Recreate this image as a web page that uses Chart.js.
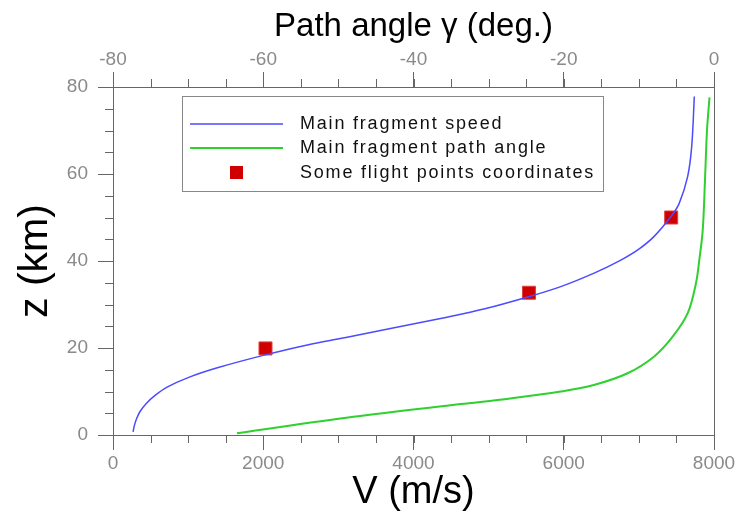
<!DOCTYPE html>
<html>
<head>
<meta charset="utf-8">
<script src="https://cdn.jsdelivr.net/npm/chart.js@4"></script>
<style>
  html, body { margin: 0; padding: 0; background: #fff; }
  #wrap { width: 740px; height: 512px; position: relative; }
</style>
</head>
<body>
<div id="wrap"><canvas id="c"></canvas></div>
<script>
// Trajectory data
const speedV   = [267, 285, 315, 360, 440, 560, 720, 1000, 1400, 2000, 2587, 3100, 3693, 4360, 4950, 5537, 5960, 6404, 6760, 6990, 7200, 7440, 7538, 7649, 7703, 7738];
const speedZ   = [0.7, 2.2, 3.8, 5.4, 7.2, 9.1, 11.0, 13.2, 15.5, 18.3, 20.7, 22.4, 24.5, 26.8, 29.0, 31.8, 34.1, 37.2, 40.2, 42.6, 45.6, 50.5, 53.3, 59.4, 66.3, 77.8];
const angleG   = [-63.5, -48, -33.7, -27.1, -20.4, -16, -11.5, -8.0, -5.5, -3.5, -2.4, -1.96, -1.5, -1.2, -0.93, -0.6];
const angleZ   = [0.4, 4.2, 7.1, 8.4, 10.0, 11.5, 14.2, 18.0, 22.6, 28.0, 34.9, 40.2, 47.1, 58.6, 70.1, 77.6];
const flightV  = [2030, 5537, 7430];
const flightZ  = [19.9, 32.7, 50.0];

const AXIS = '#666666';
const TICKTXT = '#8a8a8a';
const FONT = "'Liberation Sans', Arial, sans-serif";

const pairs = (xs, ys) => xs.map((x, i) => ({ x: x, y: ys[i] }));

// minor ticks + right frame line
const frameTicks = {
    id: 'frameTicks',
    afterDraw(chart) {
        const { ctx, chartArea: a, scales } = chart;
        const len = 8;
        ctx.save();
        ctx.strokeStyle = AXIS;
        ctx.lineWidth = 1;
        ctx.beginPath();
        ctx.moveTo(a.right + 0.5, a.top);
        ctx.lineTo(a.right + 0.5, a.bottom);
        const minor = [
            [scales.x, 500, 'bottom'],
            [scales.x2, 5, 'top'],
            [scales.y, 5, 'left']
        ];
        minor.forEach(([s, step, pos]) => {
            for (let v = s.min; v <= s.max + 1e-9; v += step) {
                const p = Math.round(s.getPixelForValue(v)) + 0.5;
                if (pos === 'bottom') { ctx.moveTo(p, a.bottom); ctx.lineTo(p, a.bottom + len); }
                if (pos === 'top') { ctx.moveTo(p, a.top); ctx.lineTo(p, a.top - len); }
                if (pos === 'left') { ctx.moveTo(a.left, p); ctx.lineTo(a.left - len, p); }
            }
        });
        ctx.stroke();
        ctx.restore();
    }
};

// legend box inside the plot
const boxLegend = {
    id: 'boxLegend',
    afterDraw(chart) {
        const { ctx } = chart;
        const bx = 182, by = 96, bw = 421, bh = 95;
        ctx.save();
        ctx.fillStyle = '#fff';
        ctx.fillRect(bx, by, bw, bh);
        ctx.strokeStyle = '#888';
        ctx.lineWidth = 1;
        ctx.strokeRect(bx + 0.5, by + 0.5, bw, bh);
        ctx.font = "18px " + FONT;
        ctx.letterSpacing = '1.8px';
        ctx.textBaseline = 'middle';
        const rows = [124, 148, 173];
        chart.data.datasets.forEach((ds, i) => {
            const y = rows[i];
            if (ds.showLine) {
                ctx.strokeStyle = ds.borderColor;
                ctx.lineWidth = ds.borderWidth;
                ctx.beginPath();
                ctx.moveTo(190, y);
                ctx.lineTo(283, y);
                ctx.stroke();
            } else {
                ctx.fillStyle = ds.backgroundColor;
                ctx.fillRect(230, y - 7, 13, 13);
            }
            ctx.fillStyle = '#111';
            ctx.fillText(ds.label, 300, y);
        });
        ctx.restore();
    }
};

const tickFmt = v => String(v);

function axisCommon(extra) {
    return Object.assign({
        type: 'linear',
        grid: { drawOnChartArea: false, drawTicks: true, tickLength: 15, color: AXIS, tickColor: AXIS },
        border: { display: true, color: AXIS, width: 1 }
    }, extra);
}

new Chart(document.getElementById('c'), {
    type: 'scatter',
    data: {
        datasets: [
            {
                label: 'Main fragment speed',
                data: pairs(speedV, speedZ),
                showLine: true, xAxisID: 'x', yAxisID: 'y',
                borderColor: '#4b4bff', borderWidth: 1.5, pointRadius: 0,
                tension: 0.35
            },
            {
                label: 'Main fragment path angle',
                data: pairs(angleG, angleZ),
                showLine: true, xAxisID: 'x2', yAxisID: 'y',
                borderColor: '#2fd02f', borderWidth: 2, pointRadius: 0,
                tension: 0.35
            },
            {
                label: 'Some flight points coordinates',
                data: pairs(flightV, flightZ),
                showLine: false, xAxisID: 'x', yAxisID: 'y',
                pointStyle: 'rect', pointRadius: 9.2,
                backgroundColor: '#d00000', borderColor: '#e04040', borderWidth: 1
            }
        ]
    },
    options: {
        responsive: true,
        maintainAspectRatio: false,
        animation: false,
        layout: { padding: { left: 0, right: 26, top: 0, bottom: 0 } },
        plugins: { legend: { display: false }, tooltip: { enabled: false } },
        scales: {
            x: axisCommon({
                position: 'bottom', min: 0, max: 8000,
                ticks: { stepSize: 2000, padding: 2, color: TICKTXT, font: { family: FONT, size: 19 }, callback: tickFmt },
                title: { display: true, text: 'V (m/s)', color: '#000', font: { family: FONT, size: 38 }, padding: { top: 0, bottom: -3 } },
                afterFit(s) { s.height = 77; }
            }),
            x2: axisCommon({
                position: 'top', min: -80, max: 0,
                ticks: { stepSize: 20, padding: 1, color: TICKTXT, font: { family: FONT, size: 19 }, callback: tickFmt },
                title: { display: true, text: 'Path angle γ (deg.)', color: '#000', font: { family: FONT, size: 33 }, padding: { top: 7, bottom: 0 } },
                afterFit(s) { s.height = 87; }
            }),
            y: axisCommon({
                position: 'left', min: 0, max: 80,
                ticks: { stepSize: 20, padding: 10, color: TICKTXT, font: { family: FONT, size: 19 }, callback: tickFmt },
                title: { display: true, text: 'z (km)', color: '#000', font: { family: FONT, size: 41 }, padding: { top: 11, bottom: 0 } },
                afterFit(s) { s.width = 113; }
            })
        }
    },
    plugins: [frameTicks, boxLegend]
});
</script>
</body>
</html>
